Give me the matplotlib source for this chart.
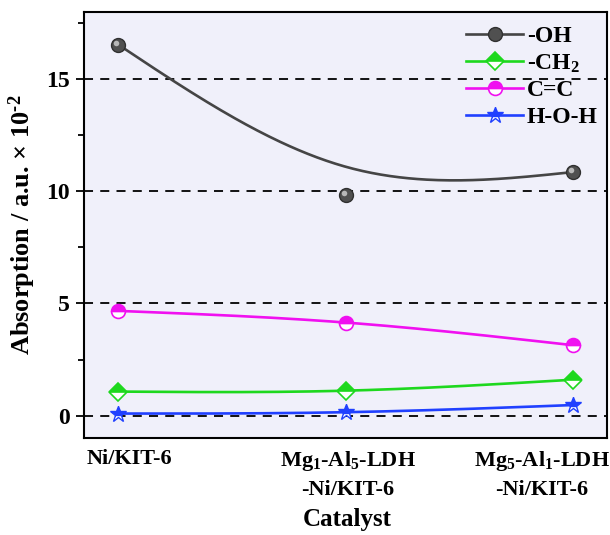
import numpy as np
import matplotlib
matplotlib.use("Agg")
import matplotlib.pyplot as plt
import matplotlib.transforms as mtrans
from matplotlib.ticker import MultipleLocator
from matplotlib.lines import Line2D
from matplotlib.legend_handler import HandlerTuple

# ---------------- data ----------------
categories = ["Ni/KIT-6",
              "Mg$_{1}$-Al$_{5}$-LDH\n-Ni/KIT-6",
              "Mg$_{5}$-Al$_{1}$-LDH\n-Ni/KIT-6"]
oh_values = [16.55, 9.83, 10.86]
oh_curve_knots = [16.55, 11.1, 10.86]   # smoothed curve knots (curve misses middle point)
ch2_values = [1.07, 1.11, 1.6]
cc_values = [4.67, 4.15, 3.14]
hoh_values = [0.09, 0.15, 0.47]
series_labels = ["-OH", "-CH$_{2}$", "C=C", "H-O-H"]
y_label = "Absorption / a.u. × 10$^{\\text{-2}}$"
x_label = "Catalyst"

# ---------------- style ----------------
plt.rcParams['font.family'] = ['Liberation Serif', 'DejaVu Serif']
plt.rcParams['font.weight'] = 'bold'
plt.rcParams['axes.labelweight'] = 'bold'
plt.rcParams['mathtext.fontset'] = 'custom'
plt.rcParams['mathtext.rm'] = 'Liberation Serif:bold'
plt.rcParams['mathtext.it'] = 'Liberation Serif:bold'
plt.rcParams['mathtext.bf'] = 'Liberation Serif:bold'
plt.rcParams['mathtext.default'] = 'rm'


def natural_spline(x, y, n=200):
    x = np.asarray(x, float)
    y = np.asarray(y, float)
    k = len(x)
    h = np.diff(x)
    A = np.zeros((k, k))
    b = np.zeros(k)
    A[0, 0] = 1
    A[-1, -1] = 1
    for i in range(1, k - 1):
        A[i, i - 1] = h[i - 1]
        A[i, i] = 2 * (h[i - 1] + h[i])
        A[i, i + 1] = h[i]
        b[i] = 6 * ((y[i + 1] - y[i]) / h[i] - (y[i] - y[i - 1]) / h[i - 1])
    M = np.linalg.solve(A, b)
    xs = np.linspace(x[0], x[-1], n)
    ys = np.empty_like(xs)
    for j, xv in enumerate(xs):
        i = min(np.searchsorted(x, xv, side='right') - 1, k - 2)
        hi = h[i]
        a1 = (x[i + 1] - xv) / hi
        a2 = (xv - x[i]) / hi
        ys[j] = (a1 * y[i] + a2 * y[i + 1]
                 + ((a1 ** 3 - a1) * M[i] + (a2 ** 3 - a2) * M[i + 1]) * hi ** 2 / 6)
    return xs, ys


fig = plt.figure(figsize=(6.1, 5.35), dpi=100)
ax = fig.add_axes([84 / 610, 1 - 438 / 535, (607 - 84) / 610, (438 - 12) / 535])
ax.set_facecolor('#f0f0fa')

x = np.arange(len(categories))

col_oh = '#454545'
col_ch2 = '#1ed81e'
col_cc = '#f010f0'
col_hoh = '#2040ff'
lw = 1.9

oh_style = dict(marker='o', ms=10, mfc='#505050', mec='#303030', mew=1.0)
oh_hl_style = dict(marker='o', ms=4, mfc='#b8b8b8', mec='none')
ch2_style = dict(marker='D', ms=9.5, color=col_ch2, fillstyle='top',
                 markerfacecoloralt='white', mew=1.2)
cc_style = dict(marker='o', ms=10, color=col_cc, fillstyle='top',
                markerfacecoloralt='white', mew=1.2)
hoh_style = dict(marker='*', ms=12, color=col_hoh, fillstyle='top',
                 markerfacecoloralt='white', mew=1.0)

hl_shift = mtrans.ScaledTranslation(-2 / 100, 2 / 100, fig.dpi_scale_trans)

# -OH
xs, ys = natural_spline(x, oh_curve_knots)
ax.plot(xs, ys, color=col_oh, lw=lw, zorder=3)
ax.plot(x, oh_values, ls='none', zorder=4, **oh_style)
ax.plot(x, oh_values, ls='none', zorder=5, transform=ax.transData + hl_shift,
        **oh_hl_style)
# -CH2
xs, ys = natural_spline(x, ch2_values)
ax.plot(xs, ys, color=col_ch2, lw=lw, zorder=3)
ax.plot(x, ch2_values, ls='none', zorder=4, **ch2_style)
# C=C
xs, ys = natural_spline(x, cc_values)
ax.plot(xs, ys, color=col_cc, lw=lw, zorder=3)
ax.plot(x, cc_values, ls='none', zorder=4, **cc_style)
# H-O-H
xs, ys = natural_spline(x, hoh_values)
ax.plot(xs, ys, color=col_hoh, lw=lw, zorder=3)
ax.plot(x, hoh_values, ls='none', zorder=4, **hoh_style)

handles = [
    Line2D([], [], color=col_oh, lw=lw, **oh_style),
    Line2D([], [], lw=lw, **ch2_style),
    Line2D([], [], lw=lw, **cc_style),
    Line2D([], [], lw=lw, **hoh_style),
]
leg = ax.legend(handles, series_labels, loc='upper right', bbox_to_anchor=(1.0, 0.99),
                frameon=False, fontsize=17, handlelength=2.4, handletextpad=0.15,
                labelspacing=0.22, borderaxespad=0.2, borderpad=0.2)

ax.set_xlim(-0.15, 2.15)
ax.set_ylim(-1, 18)
ax.yaxis.set_major_locator(MultipleLocator(5))
ax.yaxis.set_minor_locator(MultipleLocator(2.5))
ax.yaxis.grid(True, which='major', color='black', lw=1.3, linestyle=(0, (5, 4)))
ax.set_axisbelow(True)

ax.set_xticks(x)
ax.set_xticklabels(categories, fontsize=16, linespacing=1.45)
ax.tick_params(axis='x', length=0, pad=8)
ax.tick_params(axis='y', which='major', direction='out', length=6, width=1.3,
               labelsize=17, pad=4)
ax.tick_params(axis='y', which='minor', direction='out', length=4, width=1.3)

offsets_px = [11, 2, -31]
for lab, dx in zip(ax.get_xticklabels(), offsets_px):
    lab.set_transform(lab.get_transform() +
                      mtrans.ScaledTranslation(dx / 100, 0, fig.dpi_scale_trans))

for sp in ax.spines.values():
    sp.set_linewidth(1.5)
    sp.set_color('black')

ax.set_ylabel(y_label, fontsize=19, fontweight='bold')
ax.yaxis.set_label_coords(-0.088, 0.5)
ax.set_xlabel(x_label, fontsize=18, fontweight='bold')
ax.xaxis.set_label_coords(0.503, -0.164)

fig.savefig('out.png', dpi=100)
